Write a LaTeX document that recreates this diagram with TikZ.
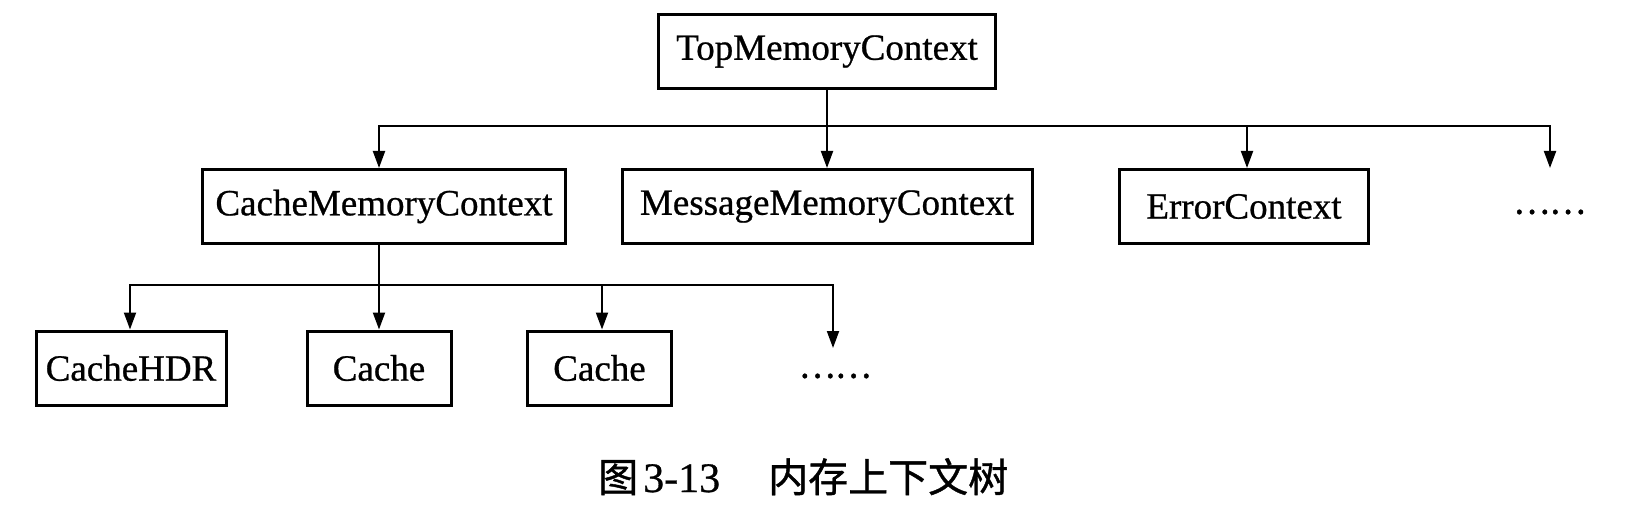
\documentclass[tikz,border=0pt]{standalone}
\usepackage{fontspec}
\setmainfont{Liberation Serif}
\newfontfamily\boxfont{Liberation Serif}[FakeBold=0.7]
\newfontfamily\cjk{Noto Sans CJK SC}[FakeBold=1]
\usetikzlibrary{arrows.meta}
\begin{document}
\begin{tikzpicture}[x=1pt,y=-1pt,
  box/.style={draw, line width=3pt, minimum height=74pt, inner sep=0pt,
              font=\fontsize{37}{44}\selectfont\boxfont},
  conn/.style={line width=2pt},
  arr/.style={conn, -{Triangle[length=17pt,width=12pt]}},
  moredots/.style={inner sep=0pt, font=\fontsize{34}{40}\selectfont\cjk}
]
\useasboundingbox (0,0) rectangle (1637,521);
% level 0
\node[box, minimum width=337pt] (top) at (827,51.5) {TopMemoryContext};
% level 1
\node[box, minimum width=363pt] (cmc) at (384,206.5) {CacheMemoryContext};
\node[box, minimum width=410pt] (msg) at (827,206.5) {MessageMemoryContext};
\node[box, minimum width=249pt] (err) at (1244,206.5) {ErrorContext};
\node[moredots] (dots1) at (1549.5,212) {……};
% level 2
\node[box, minimum width=190pt] (hdr) at (131,368) {CacheHDR};
\node[box, minimum width=144pt] (c1) at (379,368) {Cache};
\node[box, minimum width=144pt] (c2) at (599.5,368) {Cache};
\node[moredots] (dots2) at (835,376) {……};
% connectors level 0 -> 1
\coordinate (b1) at (827,126);
\coordinate (more1) at (1550,168);
\draw[conn] (top.south) -- (b1);
\draw[arr] (b1) -- (msg.north);
\draw[arr] (b1) -| ([xshift=-5pt]cmc.north);
\draw[arr] (b1) -| ([xshift=3pt]err.north);
\draw[arr] (b1) -| (more1);
% connectors level 1 -> 2
\coordinate (b2) at (379,285);
\coordinate (more2) at (833,348);
\draw[conn] ([xshift=-5pt]cmc.south) -- (b2);
\draw[arr] (b2) -- (c1.north);
\draw[arr] (b2) -| ([xshift=-1pt]hdr.north);
\draw[arr] (b2) -| ([xshift=2.5pt]c2.north);
\draw[arr] (b2) -| (more2);
% caption
\node[anchor=base west, inner sep=0pt] (cap) at (598,492)
  {{\fontsize{40}{48}\selectfont\cjk 图}\hspace{5pt}{\fontsize{42}{48}\selectfont\boxfont 3-13}\hspace{48pt}{\fontsize{40}{48}\selectfont\cjk 内存上下文树}};
\end{tikzpicture}
\end{document}
